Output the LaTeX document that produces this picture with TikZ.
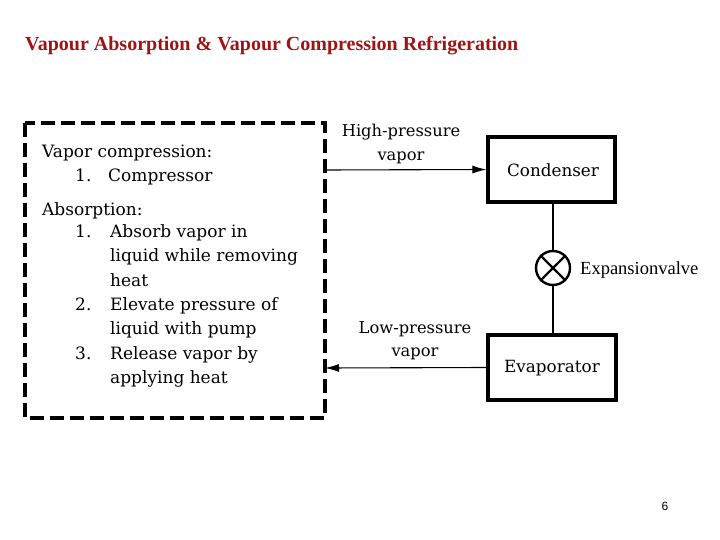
\documentclass[tikz,border=0pt]{standalone}
\usepackage{fontspec}
\setmainfont{DejaVu Serif}
\newfontfamily\titlef{Liberation Serif}
\newfontfamily\sansf{Liberation Sans}
\usetikzlibrary{arrows.meta}
\definecolor{titlered}{HTML}{9E1414}
\begin{document}
\begin{tikzpicture}[x=1pt,y=-1pt,
  txt/.style={inner sep=0pt,font=\fontsize{16.3}{16.3}\selectfont},
  utxt/.style={inner sep=0pt,font=\fontsize{16.8}{16.8}\selectfont},
  lbl/.style={inner sep=0pt,font=\fontsize{17}{17}\selectfont,anchor=base west},
  unit/.style={draw,line width=3.2pt,inner sep=0pt},
  flow/.style={line width=1.1pt,-{Latex[length=14pt,width=8pt]}},
  pipe/.style={line width=1.1pt}]
\useasboundingbox (0,0) rectangle (720,540);
\node[anchor=base west,inner sep=0pt,text=titlered,font=\titlef\fontsize{20}{20}\selectfont\bfseries] (title) at (25,51) {Vapour Absorption \& Vapour Compression Refrigeration};
\node[anchor=base,inner sep=0pt,font=\sansf\fontsize{12}{12}\selectfont] (page) at (665,510) {6};
% dashed box
\draw[line width=3.2pt,dash pattern=on 14pt off 6pt] (25,123) rectangle (325,418);
\coordinate (hpL) at (325,170);
\coordinate (lpL) at (325,368);
% units
\node[unit,minimum width=127pt,minimum height=65pt] (cond) at (551.5,169.5) {};
\node[utxt] (condt) at (553,170) {Condenser};
\node[unit,minimum width=128pt,minimum height=65pt] (evap) at (552,367.5) {};
\node[utxt] (evapt) at (552,368) {Evaporator};
\node[draw,circle,line width=2.4pt,minimum size=34pt,inner sep=0pt] (valve) at (553,268) {};
\draw[line width=2.4pt] (valve.north west) -- (valve.south east) (valve.north east) -- (valve.south west);
\node[inner sep=0pt,anchor=base west,font=\titlef\fontsize{18.5}{18.5}\selectfont] (valvet) at (580,274) {Expansionvalve};
\draw[pipe] (cond.south -| valve.north) -- (valve.north);
\draw[pipe] (valve.south) -- (valve.south |- evap.north);
\draw[flow] (hpL) -- (cond.west);
\draw[flow] (evap.west) -- (lpL);
\node[txt,align=center] (hpt) at (401,144) {High-pressure\\[7pt]vapor};
\node[txt,align=center] (lpt) at (415,341) {Low-pressure\\[7pt]vapor};
% box text
\node[lbl] (l1) at (42,158) {Vapor compression:};
\node[lbl] (l2n) at (75,182) {1.};
\node[lbl] (l2) at (108,182) {Compressor};
\node[lbl] (l3) at (42,215) {Absorption:};
\node[lbl] (l4n) at (75,237) {1.};
\node[lbl] (l4) at (110,237) {Absorb vapor in};
\node[lbl] (l5) at (110,261) {liquid while removing};
\node[lbl] (l6) at (110,286) {heat};
\node[lbl] (l7n) at (75,310) {2.};
\node[lbl] (l7) at (110,310) {Elevate pressure of};
\node[lbl] (l8) at (110,334) {liquid with pump};
\node[lbl] (l9n) at (75,359) {3.};
\node[lbl] (l9) at (110,359) {Release vapor by};
\node[lbl] (l10) at (110,383) {applying heat};
\end{tikzpicture}
\end{document}
